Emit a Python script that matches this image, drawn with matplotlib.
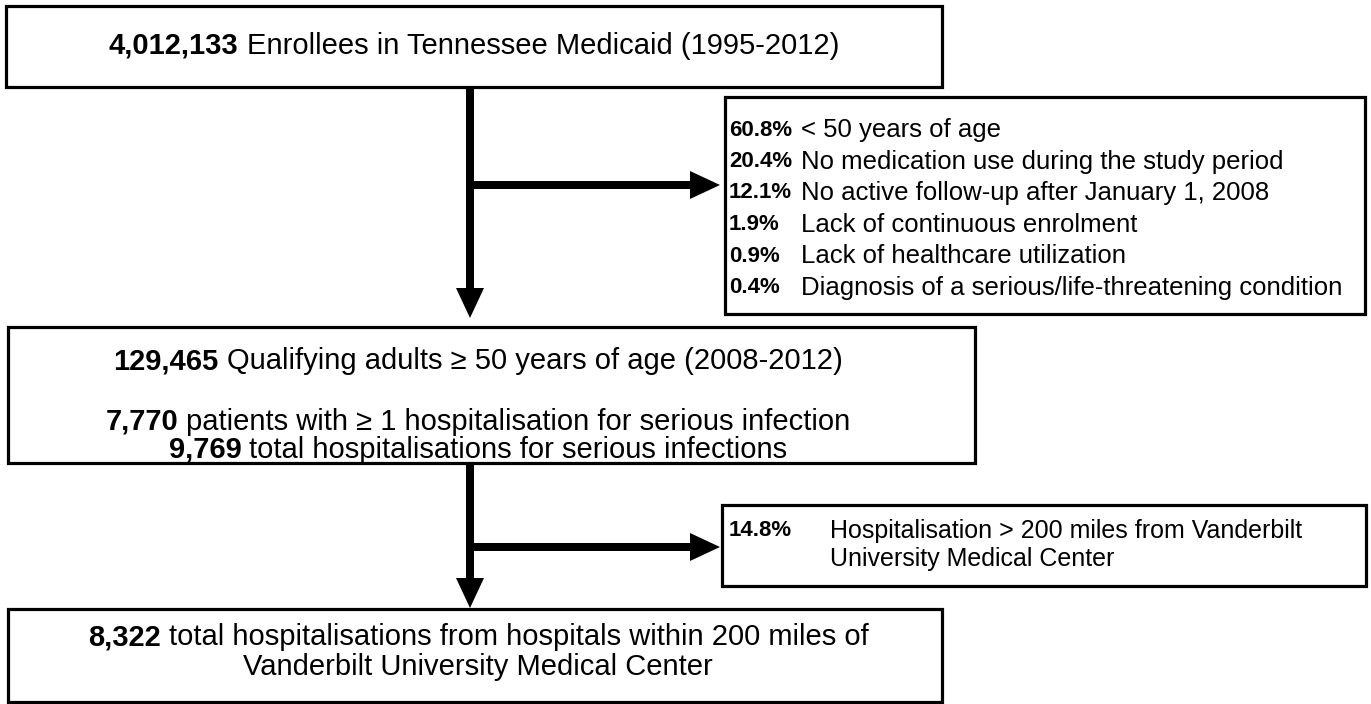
import matplotlib
matplotlib.use("Agg")
import matplotlib.pyplot as plt
from matplotlib.patches import Rectangle, FancyArrow

# flow counts
enrollees = "4,012,133"
qualifying = "129,465"
patients = "7,770"
hosp_total = "9,769"
hosp_within = "8,322"

# first exclusion step
excl_pct = ["60.8%", "20.4%", "12.1%", "1.9%", "0.9%", "0.4%"]
excl_reason = [
    "< 50 years of age",
    "No medication use during the study period",
    "No active follow-up after January 1, 2008",
    "Lack of continuous enrolment",
    "Lack of healthcare utilization",
    "Diagnosis of a serious/life-threatening condition",
]

# second exclusion step
dist_pct = "14.8%"
dist_reason = ["Hospitalisation > 200 miles from Vanderbilt", "University Medical Center"]

FONT = ["Liberation Sans", "DejaVu Sans"]

fig = plt.figure(figsize=(13.71, 7.04), dpi=100)
ax = fig.add_axes([0, 0, 1, 1])
ax.set_xlim(0, 1371)
ax.set_ylim(704, 0)
ax.axis("off")
renderer = fig.canvas.get_renderer()


def box(x0, y0, x1, y1):
    ax.add_patch(Rectangle((x0, y0), x1 - x0, y1 - y0, fill=False,
                           ec="black", lw=2.3))


def mixed_line(cx, y, parts, size=21):
    # parts: list of (text, bold); drawn side by side, centred on cx
    objs = [ax.text(0, y, s, fontsize=size, family=FONT,
                    weight="bold" if b else "normal", va="center", ha="left")
            for s, b in parts]
    a = ax.text(0, 0, "aa", fontsize=size, family=FONT)
    b = ax.text(0, 0, "a a", fontsize=size, family=FONT)
    sp = b.get_window_extent(renderer).width - a.get_window_extent(renderer).width
    a.remove()
    b.remove()
    widths = [t.get_window_extent(renderer).width for t in objs]
    x = cx - (sum(widths) + sp * (len(objs) - 1)) / 2
    for t, w in zip(objs, widths):
        t.set_x(x)
        x += w + sp


def arrow(x0, y0, x1, y1):
    ax.add_patch(FancyArrow(x0, y0, x1 - x0, y1 - y0, width=8,
                            head_width=28, head_length=30,
                            length_includes_head=True, color="black", lw=0))


# main boxes
box(6, 6, 942, 87)
mixed_line(474, 46, [(enrollees, True),
                     ("Enrollees in Tennessee Medicaid (1995-2012)", False)])

box(8, 327, 975, 463)
mixed_line(478, 361, [(qualifying, True),
                      ("Qualifying adults \u2265 50 years of age (2008-2012)", False)])
mixed_line(478, 422, [(patients, True),
                      ("patients with \u2265 1 hospitalisation for serious infection", False)])
mixed_line(478, 450, [(hosp_total, True),
                      ("total hospitalisations for serious infections", False)])

box(8, 609, 942, 702)
mixed_line(478, 637, [(hosp_within, True),
                      ("total hospitalisations from hospitals within 200 miles of", False)])
mixed_line(478, 667, [("Vanderbilt University Medical Center", False)])

# exclusion boxes
box(725, 97, 1365, 314)
for i, (p, r) in enumerate(zip(excl_pct, excl_reason)):
    y = 130 + i * 31.5
    ax.text(729, y, p, fontsize=16, family=FONT, weight="bold", va="center")
    ax.text(801, y, r, fontsize=18.5, family=FONT, va="center")

box(722, 505, 1366, 586)
ax.text(729, 531, dist_pct, fontsize=16, family=FONT, weight="bold", va="center")
for i, r in enumerate(dist_reason):
    ax.text(830, 531 + i * 28, r, fontsize=18, family=FONT, va="center")

# arrows
arrow(470, 87, 470, 318)
arrow(470, 185, 720, 185)
arrow(470, 463, 470, 608)
arrow(470, 547, 720, 547)

fig.savefig("out.png", dpi=100, facecolor="white")
